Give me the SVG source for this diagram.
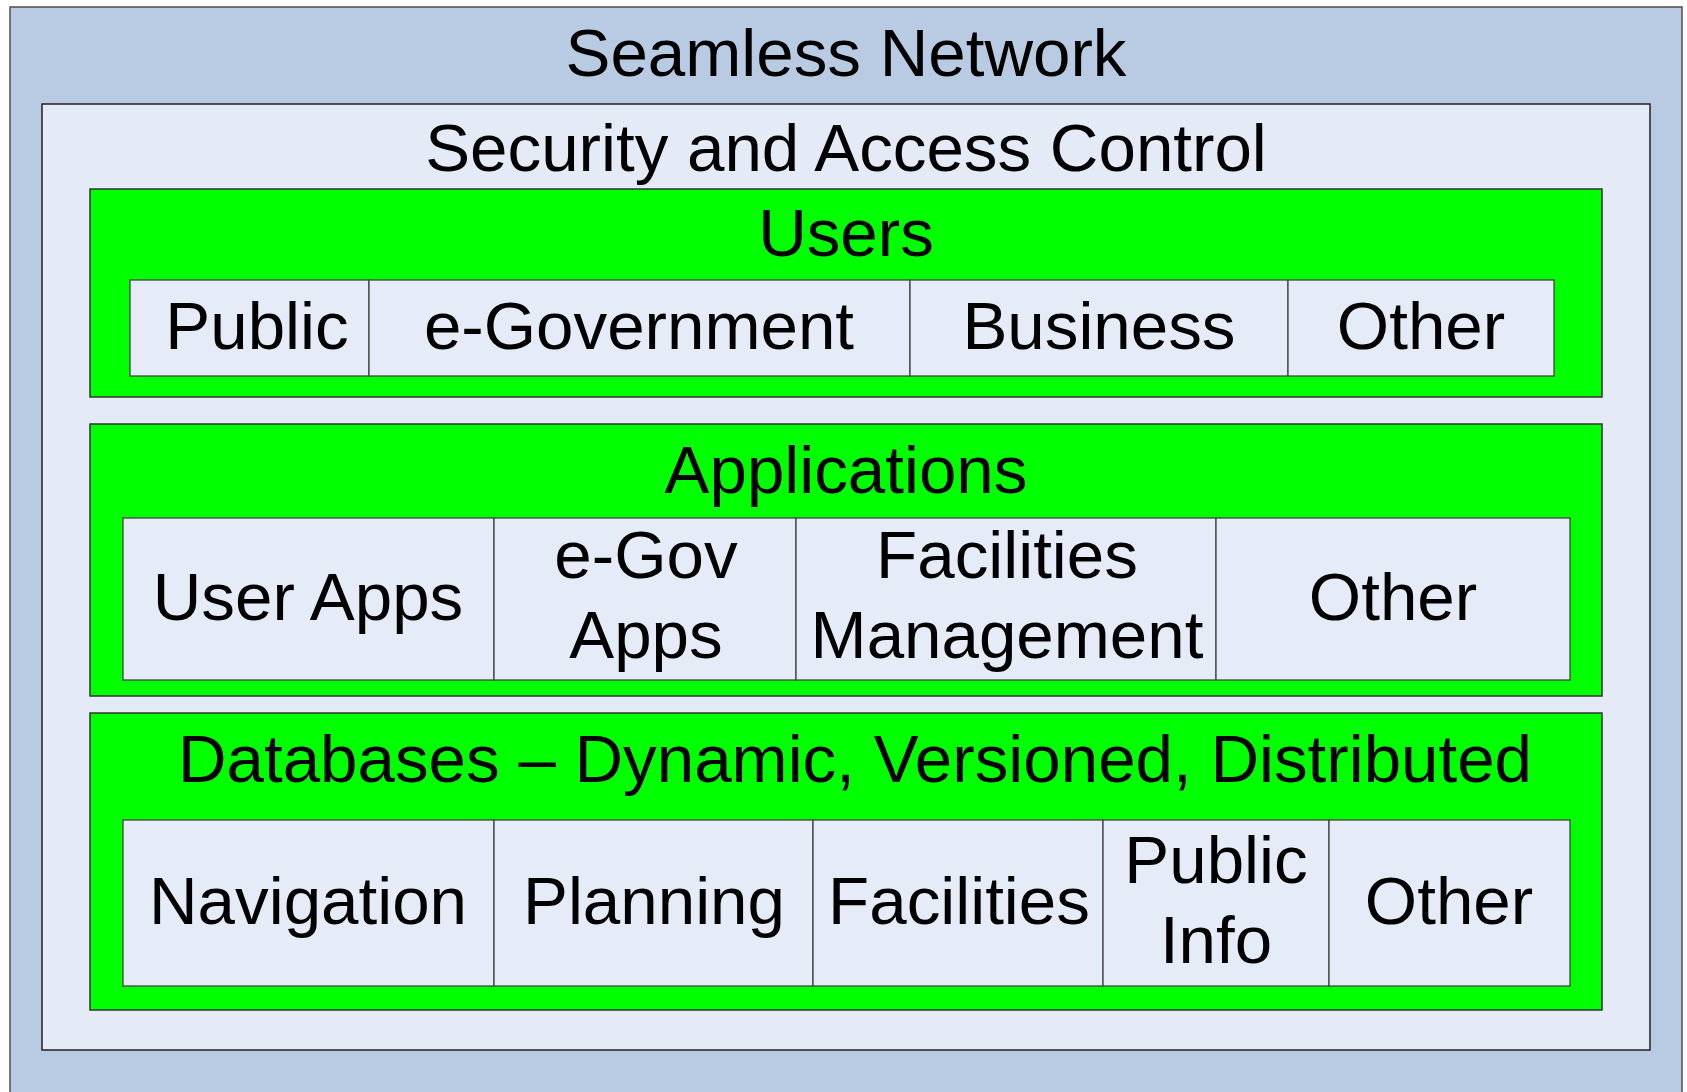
<svg xmlns="http://www.w3.org/2000/svg" width="1687" height="1092" viewBox="0 0 1687 1092">
<style>
  .t { font-family: "Liberation Sans", Arial, sans-serif; font-size: 67.3px; fill: #000; text-anchor: middle; }
  .outer { fill: #B9CAE3; stroke: #4d4d4d; stroke-width: 1.5; }
  .sec { fill: #E4EBF7; stroke: #222; stroke-width: 1.5; }
  .grp { fill: #00FF00; stroke: #333; stroke-width: 1.5; }
  .cell { fill: #E5ECF7; stroke: #444; stroke-width: 1.3; }
</style>
<rect width="1687" height="1092" fill="#ffffff"/>
<g id="seamless-network">
  <rect class="outer" x="10" y="7" width="1672" height="1100"/>
  <text class="t" x="846" y="76">Seamless Network</text>
</g>
<g id="security">
  <rect class="sec" x="42" y="104" width="1608" height="946"/>
  <text class="t" x="846" y="171">Security and Access Control</text>
</g>
<g id="users">
  <rect class="grp" x="90" y="189" width="1512" height="208"/>
  <text class="t" x="846" y="256">Users</text>
</g>
<g id="users-public"><rect class="cell" x="130" y="280" width="239" height="96"/><text class="t" x="257" y="349">Public</text></g>
<g id="users-egov"><rect class="cell" x="369" y="280" width="541" height="96"/><text class="t" x="639" y="349">e-Government</text></g>
<g id="users-business"><rect class="cell" x="910" y="280" width="378" height="96"/><text class="t" x="1099" y="349">Business</text></g>
<g id="users-other"><rect class="cell" x="1288" y="280" width="266" height="96"/><text class="t" x="1421" y="349">Other</text></g>
<g id="applications">
  <rect class="grp" x="90" y="424" width="1512" height="272"/>
  <text class="t" x="846" y="493">Applications</text>
</g>
<g id="apps-user"><rect class="cell" x="123" y="518" width="371" height="162"/><text class="t" x="308" y="620">User Apps</text></g>
<g id="apps-egov"><rect class="cell" x="494" y="518" width="302" height="162"/><text class="t" x="646" y="578">e-Gov</text><text class="t" x="646" y="658">Apps</text></g>
<g id="apps-facilities"><rect class="cell" x="796" y="518" width="420" height="162"/><text class="t" x="1007" y="578">Facilities</text><text class="t" x="1007" y="658">Management</text></g>
<g id="apps-other"><rect class="cell" x="1216" y="518" width="354" height="162"/><text class="t" x="1393" y="620">Other</text></g>
<g id="databases">
  <rect class="grp" x="90" y="713" width="1512" height="297"/>
  <text class="t" x="855" y="782">Databases – Dynamic, Versioned, Distributed</text>
</g>
<g id="db-navigation"><rect class="cell" x="123" y="820" width="371" height="166"/><text class="t" x="308" y="924">Navigation</text></g>
<g id="db-planning"><rect class="cell" x="494" y="820" width="319" height="166"/><text class="t" x="654" y="924">Planning</text></g>
<g id="db-facilities"><rect class="cell" x="813" y="820" width="290" height="166"/><text class="t" x="959" y="924">Facilities</text></g>
<g id="db-public-info"><rect class="cell" x="1103" y="820" width="226" height="166"/><text class="t" x="1216" y="883">Public</text><text class="t" x="1216" y="963">Info</text></g>
<g id="db-other"><rect class="cell" x="1329" y="820" width="241" height="166"/><text class="t" x="1449" y="924">Other</text></g>
<g id="connectors"></g>
</svg>
